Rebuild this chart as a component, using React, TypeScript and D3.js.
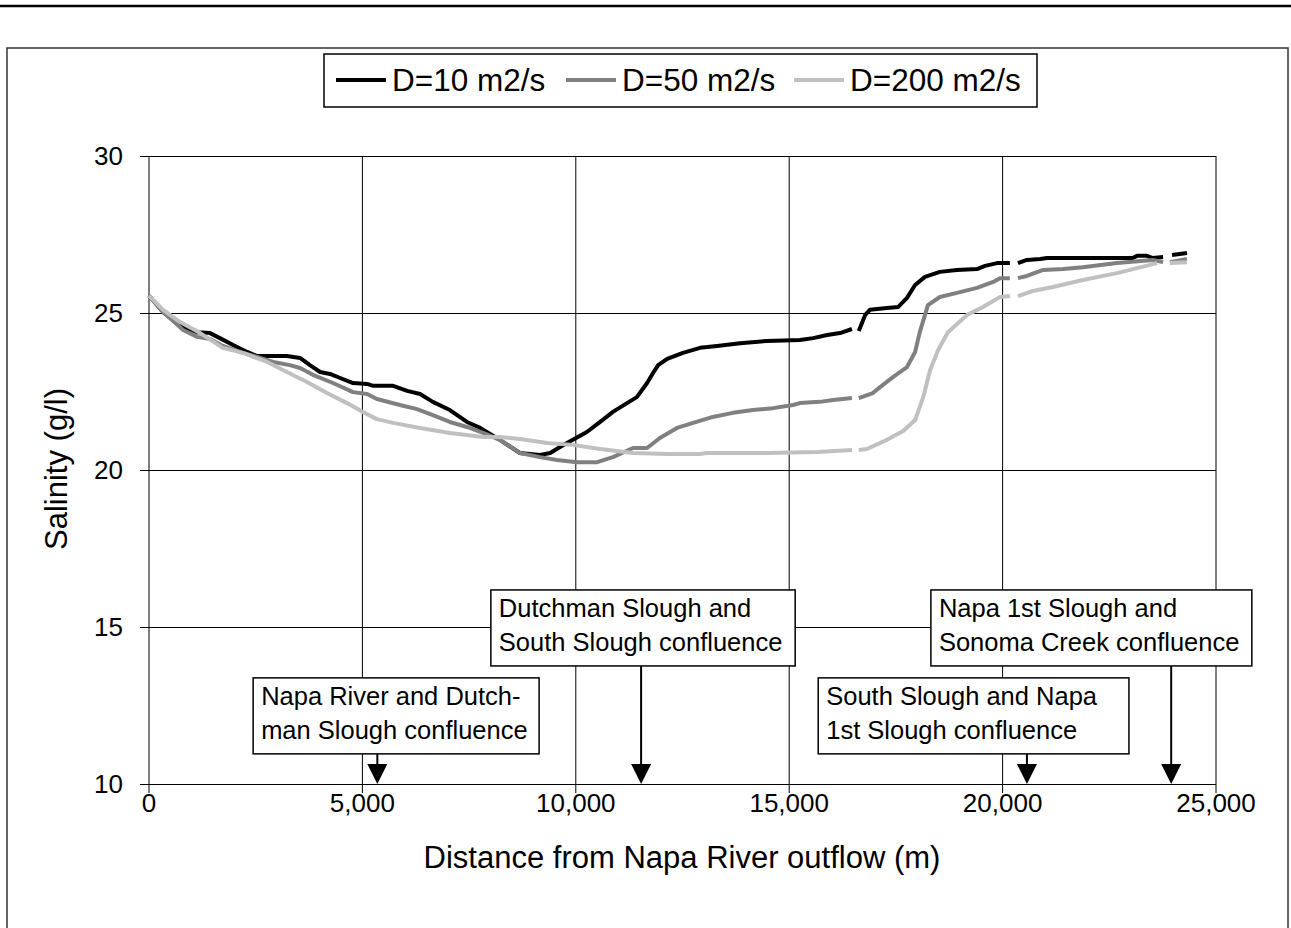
import { useEffect, useRef } from 'react';
import * as d3 from 'd3';

type Pt = [number, number | null];

// distance (m), salinity (g/l); null = gap in the model output
const d10: Pt[] = [
  [0, 25.55], [330, 25.03], [800, 24.55], [1130, 24.39], [1430, 24.36], [1660, 24.2], [1970, 23.98],
  [2300, 23.76], [2530, 23.63], [3230, 23.63], [3540, 23.57], [3770, 23.34], [4010, 23.12], [4240, 23.06],
  [4480, 22.93], [4780, 22.77], [5110, 22.74], [5250, 22.68], [5720, 22.68], [6050, 22.52], [6350, 22.42],
  [6650, 22.17], [7050, 21.91], [7450, 21.53], [7760, 21.34], [8040, 21.11], [8220, 20.96], [8690, 20.54],
  [9160, 20.48], [9400, 20.54], [9630, 20.73], [9930, 20.96], [10260, 21.21], [10570, 21.53], [10870, 21.85],
  [11200, 22.13], [11430, 22.32], [11670, 22.77], [11810, 23.09], [11930, 23.34], [12140, 23.54], [12510, 23.73],
  [12910, 23.89], [13310, 23.95], [13850, 24.04], [14480, 24.11], [15250, 24.14], [15560, 24.2], [15890, 24.3],
  [16190, 24.36], [16470, 24.49], [16550, null],
  [16630, 24.43], [16780, 24.94], [16890, 25.1], [17290, 25.16], [17550, 25.19], [17760, 25.48], [17950, 25.89],
  [18180, 26.15], [18530, 26.31], [18930, 26.37], [19400, 26.4], [19590, 26.5], [19870, 26.59], [20170, 26.59],
  [20270, null],
  [20360, 26.59], [20570, 26.69], [20880, 26.72], [21040, 26.75], [23050, 26.75], [23150, 26.82], [23380, 26.82],
  [23520, 26.75], [23760, 26.78], [23860, null],
  [23970, 26.85], [24320, 26.91],
];

const d50: Pt[] = [
  [0, 25.55], [330, 25.03], [800, 24.46], [1130, 24.24], [1430, 24.17], [1730, 23.95], [2130, 23.76],
  [2530, 23.6], [2910, 23.44], [3300, 23.34], [3540, 23.25], [3840, 23.03], [4310, 22.77], [4780, 22.48],
  [5110, 22.42], [5340, 22.26], [5880, 22.07], [6280, 21.94], [6650, 21.75], [7050, 21.53], [7450, 21.37],
  [7830, 21.18], [8220, 20.96], [8690, 20.54], [9160, 20.41], [9560, 20.32], [10030, 20.25], [10500, 20.25],
  [10870, 20.41], [11340, 20.7], [11670, 20.7], [11970, 21.02], [12370, 21.34], [12750, 21.5], [13210, 21.69],
  [13680, 21.82], [14150, 21.91], [14620, 21.97], [15090, 22.07], [15250, 22.13], [15720, 22.17], [16030, 22.23],
  [16470, 22.29], [16550, null],
  [16630, 22.29], [16960, 22.45], [17130, 22.64], [17430, 22.96], [17760, 23.28], [17950, 23.76], [18060, 24.39],
  [18250, 25.25], [18530, 25.51], [18930, 25.64], [19400, 25.8], [19780, 25.99], [19940, 26.11], [20170, 26.11],
  [20270, null],
  [20360, 26.11], [20570, 26.18], [20950, 26.37], [21420, 26.4], [21880, 26.46], [22680, 26.59], [23520, 26.69],
  [23760, 26.62], [23840, null],
  [23920, 26.62], [24320, 26.72],
];

const d200: Pt[] = [
  [0, 25.55], [330, 25.1], [730, 24.71], [1200, 24.36], [1730, 23.89], [2200, 23.73], [2770, 23.44],
  [3230, 23.12], [3700, 22.8], [4170, 22.45], [4640, 22.13], [5010, 21.85], [5340, 21.62], [5720, 21.5],
  [6350, 21.34], [7050, 21.18], [7830, 21.05], [8220, 21.05], [8690, 20.99], [9330, 20.86], [9930, 20.8],
  [10570, 20.67], [11340, 20.54], [12140, 20.51], [12910, 20.51], [13070, 20.54], [14480, 20.54], [15650, 20.57],
  [16470, 20.64], [16550, null],
  [16630, 20.64], [16820, 20.67], [17290, 20.96], [17670, 21.24], [17950, 21.59], [18140, 22.32], [18300, 23.18],
  [18490, 23.82], [18720, 24.39], [19170, 24.94], [19540, 25.19], [19940, 25.51], [20170, 25.54],
  [20270, null],
  [20360, 25.54], [20710, 25.7], [21180, 25.83], [21880, 26.05], [22680, 26.27], [23620, 26.59], [23760, null],
  [23920, 26.59], [24320, 26.62],
];

const seriesNames = ['D=10 m2/s', 'D=50 m2/s', 'D=200 m2/s'];
const seriesData = [d10, d50, d200];
const seriesColors = ['#000000', '#808080', '#c0c0c0'];

const xTicks = [0, 5000, 10000, 15000, 20000, 25000];
const yTicks = [10, 15, 20, 25, 30];

const annotationLines = [
  ['Napa River and Dutch-', 'man Slough confluence'],
  ['Dutchman Slough and', 'South Slough confluence'],
  ['South Slough and Napa', '1st Slough confluence'],
  ['Napa 1st Slough and', 'Sonoma Creek confluence'],
];
const annotationAt = [5350, 11530, 20570, 23950];

// box placement: left/right in metres, top in g/l
const boxLeft = [2440, 8010, 15680, 18320];
const boxRight = [9140, 15140, 22960, 25840];
const boxTop = [13.38, 16.18, 13.38, 16.18];

const W = 1291;
const H = 928;
const FONT = '"Liberation Sans", Arial, Helvetica, sans-serif';

export default function App() {
  const ref = useRef<SVGSVGElement>(null);

  useEffect(() => {
    if (!ref.current) return;
    const svg = d3.select(ref.current);
    svg.selectAll('*').remove();

    const x = d3.scaleLinear().domain([0, 25000]).range([149, 1216]);
    const y = d3.scaleLinear().domain([10, 30]).range([784, 156]);

    svg.append('rect').attr('width', W).attr('height', H).attr('fill', '#fff');

    // rule at top + chart frame
    svg.append('line').attr('x1', 0).attr('x2', W).attr('y1', 6).attr('y2', 6)
      .attr('stroke', '#000').attr('stroke-width', 2.5);
    svg.append('rect').attr('x', 7).attr('y', 48).attr('width', 1281).attr('height', 920)
      .attr('fill', 'none').attr('stroke', '#333').attr('stroke-width', 1.5);

    // grid
    const g = svg.append('g');
    g.selectAll('.hgrid').data(yTicks).enter().append('line')
      .attr('x1', x(0) - 9).attr('x2', x(25000))
      .attr('y1', d => Math.round(y(d)) + 0.5).attr('y2', d => Math.round(y(d)) + 0.5)
      .attr('stroke', '#000').attr('stroke-width', 1);
    g.selectAll('.vgrid').data(xTicks).enter().append('line')
      .attr('x1', d => x(d)).attr('x2', d => x(d))
      .attr('y1', y(30)).attr('y2', y(10) + 9)
      .attr('stroke', '#000').attr('stroke-width', 1);

    // tick labels
    g.selectAll('.ylab').data(yTicks).enter().append('text')
      .attr('x', 123).attr('y', d => y(d)).attr('dy', '0.36em')
      .attr('text-anchor', 'end').attr('font-family', FONT).attr('font-size', 26)
      .text(d => d);
    g.selectAll('.xlab').data(xTicks).enter().append('text')
      .attr('x', d => x(d)).attr('y', 812)
      .attr('text-anchor', 'middle').attr('font-family', FONT).attr('font-size', 26)
      .text(d => d3.format(',')(d));

    // axis titles
    svg.append('text').attr('x', 682).attr('y', 868).attr('text-anchor', 'middle')
      .attr('font-family', FONT).attr('font-size', 31)
      .text('Distance from Napa River outflow (m)');
    svg.append('text').attr('transform', 'translate(67,469) rotate(-90)').attr('text-anchor', 'middle')
      .attr('font-family', FONT).attr('font-size', 31)
      .text('Salinity (g/l)');

    // series
    const line = d3.line<Pt>()
      .defined(d => d[1] !== null)
      .x(d => x(d[0]))
      .y(d => y(d[1] as number));
    seriesData.forEach((s, i) => {
      svg.append('path').datum(s)
        .attr('fill', 'none').attr('stroke', seriesColors[i]).attr('stroke-width', 4)
        .attr('stroke-linejoin', 'round')
        .attr('d', line);
    });

    // annotations
    annotationLines.forEach((lines, i) => {
      const bx = x(boxLeft[i]);
      const bw = x(boxRight[i]) - bx;
      const by = y(boxTop[i]);
      const bh = 76;
      const ax = x(annotationAt[i]);
      svg.append('line').attr('x1', ax).attr('x2', ax).attr('y1', by + bh).attr('y2', y(10) - 18)
        .attr('stroke', '#000').attr('stroke-width', 2);
      svg.append('path')
        .attr('d', `M${ax - 10},${y(10) - 20}L${ax + 10},${y(10) - 20}L${ax},${y(10)}Z`)
        .attr('fill', '#000');
      svg.append('rect').attr('x', bx).attr('y', by).attr('width', bw).attr('height', bh)
        .attr('fill', '#fff').attr('stroke', '#000').attr('stroke-width', 1.5);
      lines.forEach((t, j) => {
        svg.append('text').attr('x', bx + 8).attr('y', by + 27 + j * 34)
          .attr('font-family', FONT).attr('font-size', 25.5).text(t);
      });
    });

    // legend
    const lg = svg.append('g');
    lg.append('rect').attr('x', 324).attr('y', 54).attr('width', 713).attr('height', 53)
      .attr('fill', '#fff').attr('stroke', '#000').attr('stroke-width', 1.5);
    const itemX = [336, 566, 794];
    seriesNames.forEach((name, i) => {
      lg.append('line').attr('x1', itemX[i]).attr('x2', itemX[i] + 50).attr('y1', 80).attr('y2', 80)
        .attr('stroke', seriesColors[i]).attr('stroke-width', 4);
      lg.append('text').attr('x', itemX[i] + 56).attr('y', 91)
        .attr('font-family', FONT).attr('font-size', 31.5).text(name);
    });
  }, []);

  return (
    <svg ref={ref} width={W} height={H}
      style={{ position: 'absolute', left: 0, top: 0, display: 'block' }} />
  );
}
